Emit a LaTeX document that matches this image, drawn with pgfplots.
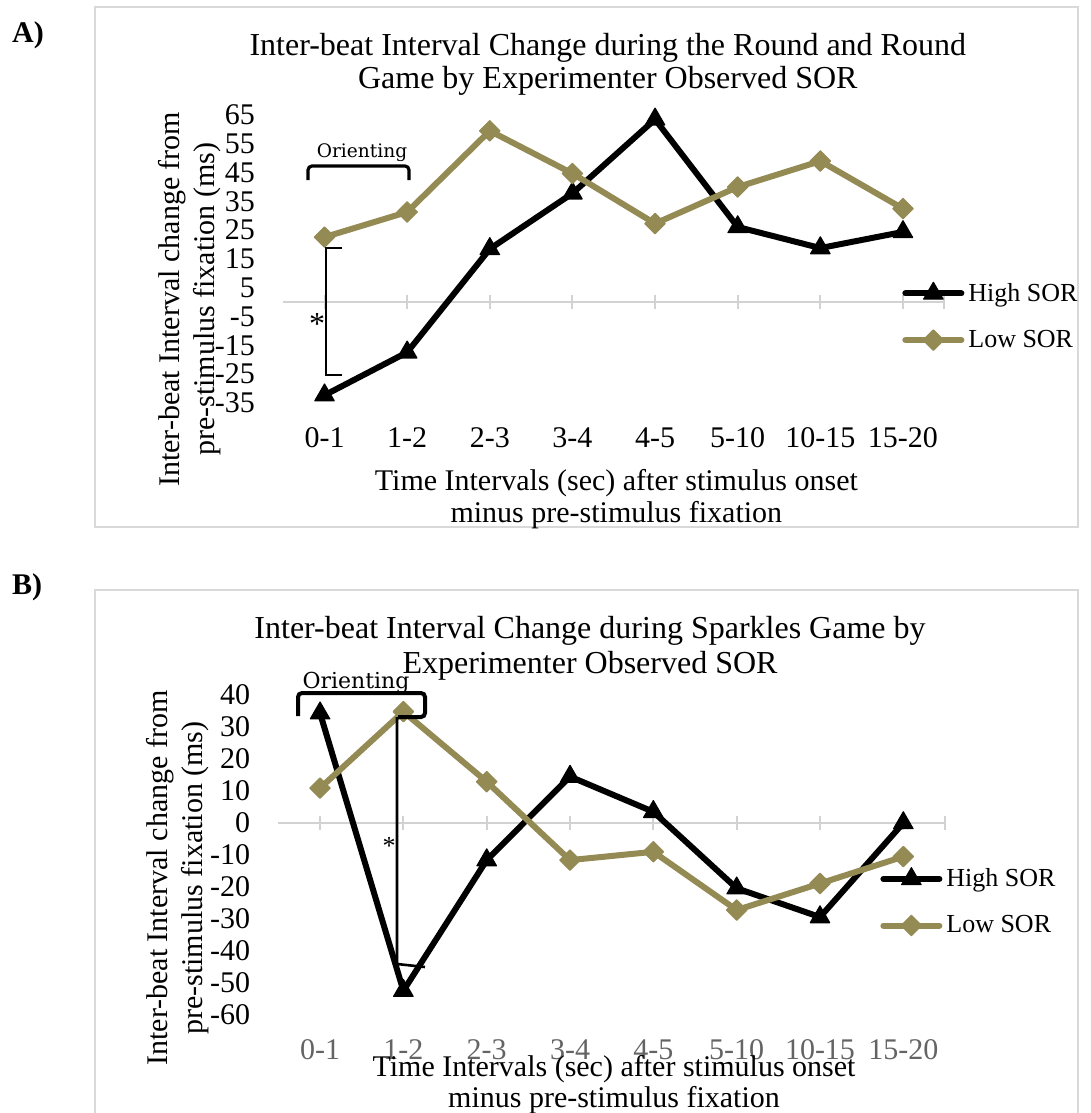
\documentclass[border=0pt]{standalone}
\usepackage{fontspec}
\setmainfont{Liberation Serif}
\newfontfamily\orfont{DejaVu Serif}
\usepackage{pgfplots}
\pgfplotsset{compat=1.18}
\definecolor{gold}{RGB}{148,138,84}
\definecolor{framegray}{RGB}{217,217,217}
\definecolor{axgray}{RGB}{210,210,210}
\definecolor{ticklab}{RGB}{100,100,100}

\pgfplotsset{
  sorbase/.style={
    scale only axis,
    xmin=-0.5, xmax=7.5,
    axis line style={draw=none},
    major tick length=0pt,
    xtick={0,...,7},
    xticklabels={0-1,1-2,2-3,3-4,4-5,5-10,10-15,15-20},
    xticklabel style={font=\fontsize{15pt}{18pt}\selectfont, anchor=center, yshift=-17.5pt, inner sep=0pt},
    yticklabel style={font=\fontsize{15pt}{18pt}\selectfont, anchor=east, xshift=-14pt, inner sep=0pt},
    title style={font=\fontsize{16pt}{16.5pt}\selectfont, align=center, anchor=center, inner sep=0pt},
    xlabel style={font=\fontsize{15pt}{16pt}\selectfont, align=center, anchor=center, inner sep=0pt},
    ylabel style={font=\fontsize{15pt}{17.5pt}\selectfont, align=center, anchor=center, inner sep=0pt},
    legend style={draw=none, fill=none, font=\fontsize{13pt}{15pt}\selectfont, anchor=west, inner sep=0pt, row sep=9pt},
    legend cell align=left,
    legend image code/.code={\draw[mark repeat=2,mark phase=2] plot coordinates {(0pt,0pt) (14pt,0pt) (28pt,0pt)};},
    clip=false,
  },
  highsor/.style={black, line width=3pt, line join=round, line cap=round, mark=triangle*, mark size=5.6pt, mark options={solid, line width=0.6pt, fill=black}},
  lowsor/.style={gold, line width=3pt, line join=round, line cap=round, mark=square*, mark size=3.6pt, mark options={solid, rotate=45, line width=0.6pt, fill=gold}},
}

\begin{document}
\begin{tikzpicture}
\begin{scope}[x=0.5pt,y=-0.5pt]
\fill[white] (0,0) rectangle (1091,1113);
\draw[framegray, line width=1pt] (95,7.5) rectangle (1078,527);
\draw[framegray, line width=1pt] (95,590) rectangle (1078,1130);
\node[font=\bfseries\fontsize{15pt}{16pt}\selectfont] at (28,35) {A)};
\node[font=\bfseries\fontsize{15pt}{16pt}\selectfont] at (27,587) {B)};
\end{scope}

% ---------------- Panel A ----------------
\begin{axis}[sorbase,
  at={(141.6pt,-201.5pt)}, anchor=south west,
  width=330.55pt, height=144pt,
  ymin=-35, ymax=65,
  ytick={-35,-25,-15,-5,5,15,25,35,45,55,65},
  yticklabels={-35,-25,-15,-5,5,15,25,35,45,55,65},
  title={Inter-beat Interval Change during the Round and Round\\Game by Experimenter Observed SOR},
  title style={at={(axis description cs:0.491,1.135)}},
  xlabel={Time Intervals (sec) after stimulus onset\\minus pre-stimulus fixation},
  xlabel style={at={(axis description cs:0.504,-0.333)}},
  ylabel={Inter-beat Interval change from\\pre-stimulus fixation (ms)},
  ylabel style={at={(axis description cs:-0.1417,0.360)}},
  legend style={at={(axis description cs:0.936,0.300)}},
]
\draw[axgray, line width=1pt] (axis cs:-0.5,0) -- (axis cs:7.5,0);
\pgfplotsinvokeforeach{0,1,2,3,4,5,6,7,7.5}{\draw[axgray, line width=1pt] ([yshift=-3.5pt]axis cs:#1,0) -- ([yshift=3.5pt]axis cs:#1,0);}
\addplot[highsor] coordinates {(0,-32.3) (1,-17.4) (2,18.5) (3,37.8) (4,63.5) (5,26.1) (6,18.8) (7,24.4)};
\addlegendentry{High SOR}
\addplot[lowsor] coordinates {(0,22.6) (1,31.3) (2,59.5) (3,44.7) (4,27.3) (5,40) (6,49) (7,32.5)};
\addlegendentry{Low SOR}
\end{axis}

% ---------------- Panel B ----------------
\begin{axis}[sorbase,
  at={(139.2pt,-507.5pt)}, anchor=south west,
  width=333.3pt, height=160pt,
  ymin=-60, ymax=40,
  ytick={-60,-50,-40,-30,-20,-10,0,10,20,30,40},
  yticklabels={-60,-50,-40,-30,-20,-10,0,10,20,30,40},
  xticklabel style={text=ticklab},
  title={Inter-beat Interval Change during Sparkles Game by\\Experimenter Observed SOR},
  title style={font=\fontsize{16pt}{17.5pt}\selectfont, at={(axis description cs:0.4675,1.109)}},
  xlabel={Time Intervals (sec) after stimulus onset\\minus pre-stimulus fixation},
  xlabel style={font=\fontsize{15pt}{15.5pt}\selectfont, at={(axis description cs:0.5035,-0.2164)}},
  ylabel={Inter-beat Interval change from\\pre-stimulus fixation (ms)},
  ylabel style={at={(axis description cs:-0.1514,0.428)}},
  legend style={at={(axis description cs:0.9025,0.353)}},
]
\draw[axgray, line width=1pt] (axis cs:-0.5,0) -- (axis cs:7.5,0);
\pgfplotsinvokeforeach{0,1,2,3,4,5,6,7,7.5}{\draw[axgray, line width=1pt] ([yshift=-3.5pt]axis cs:#1,0) -- ([yshift=3.5pt]axis cs:#1,0);}
\addplot[highsor] coordinates {(0,34.3) (1,-52.4) (2,-11.6) (3,14.5) (4,3.5) (5,-20.4) (6,-29.4) (7,0)};
\addlegendentry{High SOR}
\addplot[lowsor] coordinates {(0,10.9) (1,34.8) (2,12.9) (3,-11.6) (4,-9) (5,-27.2) (6,-18.9) (7,-10.5)};
\addlegendentry{Low SOR}
\end{axis}

% ---------------- Annotations ----------------
\begin{scope}[x=0.5pt,y=-0.5pt]
\draw[line width=1.6pt, rounded corners=2pt] (308,180) -- (308,166) -- (409,166) -- (409,180);
\node[font=\orfont\fontsize{9.3pt}{10pt}\selectfont] at (362,153) {Orienting};
\draw[line width=1.2pt] (342,248) -- (326,248) -- (326,375) -- (342,375);
\node[font=\fontsize{16pt}{16pt}\selectfont, anchor=base, inner sep=0pt] at (317,334) {*};

\node[font=\orfont\fontsize{11pt}{12pt}\selectfont, anchor=base, inner sep=0pt] at (356,688) {Orienting};
\draw[line width=2pt, rounded corners=2pt] (298,716) -- (298,693) -- (425,693) -- (425,717) -- (398,717);
\draw[line width=1.3pt] (397,717) -- (397,964) -- (425,967);
\node[font=\fontsize{13pt}{13pt}\selectfont, anchor=base, inner sep=0pt] at (389,854) {*};

\pgfresetboundingbox
\useasboundingbox (0,0) rectangle (1091,1113);
\end{scope}
\end{tikzpicture}
\end{document}
